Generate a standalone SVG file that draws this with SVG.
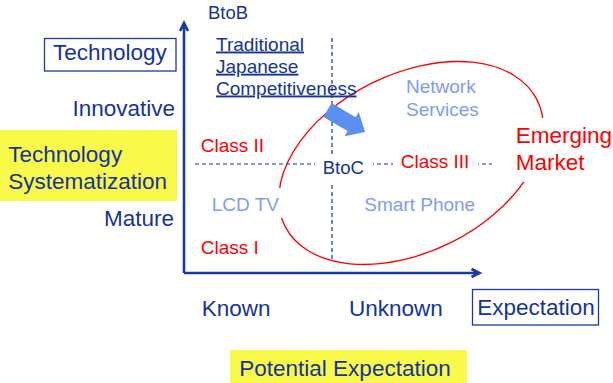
<svg xmlns="http://www.w3.org/2000/svg" width="613" height="383" viewBox="0 0 613 383">
<style>
text{font-family:"Liberation Sans",Arial,sans-serif}
.big{font-size:22.5px;fill:#14349c}
.mid{font-size:19px}
.dk{fill:#14349c}
.red{fill:#ff0000}
.lt{fill:#7f9cf7}
.dash{stroke:#14349c;stroke-width:1.2;stroke-dasharray:4 3;fill:none}
.axis{stroke:#1a3aa0;stroke-width:2.6;fill:none}
.box{fill:none;stroke:#1a3aa0;stroke-width:1.3}
.yel{fill:#f9f94a}
.wb{fill:#ffffff}
</style>
<g id="connectors">
<line class="dash" x1="332" y1="38" x2="332" y2="262"/>
<line class="dash" x1="195" y1="164" x2="492" y2="164"/>
<ellipse cx="411" cy="163" rx="141" ry="89" transform="rotate(-26.5 411 163)" fill="none" stroke="#ff0000" stroke-width="1.3"/>
<path class="axis" d="M184 273 V23 M180 31 L184 23 L188 31"/>
<path class="axis" d="M184 273 H479 M471.5 269 L479.5 273 L471.5 277"/>
</g>
<rect class="wb" x="315" y="155" width="58" height="28"/>
<rect class="wb" x="393" y="150" width="85" height="26"/>
<rect class="wb" x="205" y="188" width="79" height="30"/>
<rect class="wb" x="510" y="118" width="103" height="64"/>
<g id="axis-labels">
<text class="dk" x="208" y="18.5" font-size="18.5">BtoB</text>
<text class="dk" x="322.7" y="174" font-size="18.5">BtoC</text>
<text class="big" x="175" y="116" text-anchor="end">Innovative</text>
<text class="big" x="174" y="226" text-anchor="end">Mature</text>
<text class="big" x="201.7" y="315.7">Known</text>
<text class="big" x="349" y="315.7">Unknown</text>
</g>
<g id="technology">
<rect class="box" x="44.5" y="38.5" width="131.5" height="32.5"/>
<text class="big" x="53" y="60">Technology</text>
</g>
<g id="expectation">
<rect class="box" x="472.5" y="289.5" width="126" height="35.5"/>
<text class="big" x="477.3" y="315">Expectation</text>
</g>
<g id="technology-systematization">
<rect class="yel" x="0" y="130" width="177" height="71"/>
<text class="big" x="8.3" y="161.7">Technology</text>
<text class="big" x="8.3" y="189.3">Systematization</text>
</g>
<g id="potential-expectation">
<rect class="yel" x="230" y="350" width="237" height="33"/>
<text class="big" x="239.3" y="375.7">Potential Expectation</text>
</g>
<g id="traditional">
<text class="mid dk" x="216" y="50.5" text-decoration="underline">Traditional</text>
<text class="mid dk" x="216" y="72.7" text-decoration="underline">Japanese</text>
<text class="mid dk" x="216" y="94.5" text-decoration="underline">Competitiveness</text>
</g>
<g id="network-services">
<text class="mid lt" x="406" y="93.3">Network</text>
<text class="mid lt" x="406" y="116">Services</text>
</g>
<g id="class2"><text class="mid red" x="200.7" y="152.3">Class II</text></g>
<g id="class3"><text class="mid red" x="400.7" y="167.7">Class III</text></g>
<g id="class1"><text class="mid red" x="200.7" y="254">Class I</text></g>
<g id="lcd-tv"><text class="mid lt" x="211.7" y="210.7">LCD TV</text></g>
<g id="smart-phone"><text class="mid lt" x="364.3" y="210.7">Smart Phone</text></g>
<g id="emerging-market">
<text x="515.7" y="143.3" font-size="22.5" fill="#ff0000">Emerging</text>
<text x="515.7" y="170" font-size="22.5" fill="#ff0000">Market</text>
</g>
<g id="shift-arrow">
<path d="M0 -8 H28 V-14 L43.5 0 L28 14 V8 H0 Z" fill="#5b8ff2" transform="translate(327.5 110) rotate(30.4)"/>
</g>
</svg>
